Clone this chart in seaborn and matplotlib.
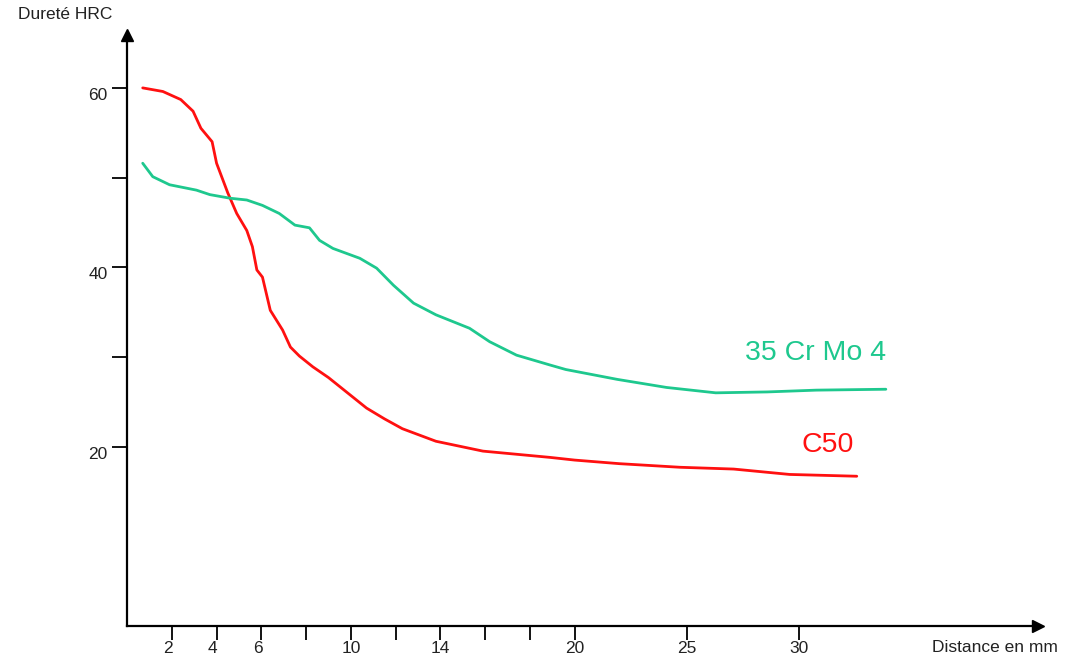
import pandas as pd
import matplotlib
matplotlib.use("Agg")
import matplotlib.pyplot as plt
import matplotlib.transforms as mtransforms
import seaborn as sns

# courbes Jominy : distance (mm) -> dureté (HRC)
c50_dist = [0.7, 1.6, 2.4, 2.95, 3.3, 3.8, 4.0, 4.5, 4.9, 5.35, 5.6, 5.8, 6.05, 6.4,
            6.95, 7.3, 7.7, 8.3, 9.0, 9.6, 10.7, 11.5, 12.3, 13.8, 15.9, 18.9, 20.0,
            22.0, 24.7, 27.1, 29.6, 32.6]
c50_hrc = [60.0, 59.6, 58.7, 57.4, 55.5, 54.0, 51.6, 48.3, 46.0, 44.1, 42.3, 39.7,
           38.9, 35.2, 33.0, 31.1, 30.1, 28.9, 27.7, 26.5, 24.3, 23.1, 22.0, 20.6,
           19.5, 18.8, 18.5, 18.1, 17.7, 17.5, 16.9, 16.7]

crmo_dist = [0.7, 1.15, 1.9, 3.1, 3.7, 4.6, 5.35, 6.05, 6.8, 7.5, 8.15, 8.6, 9.2,
             10.4, 11.15, 11.9, 12.8, 13.8, 15.3, 16.2, 17.4, 18.9, 19.6, 21.9,
             24.1, 26.3, 28.6, 30.8, 33.9]
crmo_hrc = [51.6, 50.1, 49.2, 48.6, 48.1, 47.7, 47.5, 46.9, 46.0, 44.7, 44.4, 43.0,
            42.1, 41.0, 39.9, 38.0, 36.0, 34.7, 33.2, 31.7, 30.2, 29.1, 28.6, 27.5,
            26.6, 26.0, 26.1, 26.3, 26.4]

nuances = ["C50", "35 Cr Mo 4"]
couleurs = {"C50": "#ff1010", "35 Cr Mo 4": "#1ec88e"}

x_ticks = [2, 4, 6, 8, 10, 12, 14, 16, 18, 20, 25, 30]
x_labels = ["2", "4", "6", "", "10", "", "14", "", "", "20", "25", "30"]
y_ticks = [20, 30, 40, 50, 60]
y_labels = ["20", "", "40", "", "60"]

df = pd.concat([
    pd.DataFrame({"dist": c50_dist, "hrc": c50_hrc, "nuance": "C50"}),
    pd.DataFrame({"dist": crmo_dist, "hrc": crmo_hrc, "nuance": "35 Cr Mo 4"}),
])

sns.set_style("white")
plt.rcParams["font.family"] = ["Liberation Sans", "DejaVu Sans"]

fig = plt.figure(figsize=(10.83, 6.6), dpi=100)
ax = fig.add_axes([0.1173, 0.0515, 0.8412, 0.8955])

sns.lineplot(data=df, x="dist", y="hrc", hue="nuance", hue_order=nuances,
             palette=couleurs, sort=False, estimator=None, linewidth=2,
             legend=False, ax=ax)

ax.set_xlim(0, 40.7)
ax.set_ylim(0, 65.9)

# axes en fleche
for s in ["top", "right"]:
    ax.spines[s].set_visible(False)
for s in ["left", "bottom"]:
    ax.spines[s].set_linewidth(1.6)
    ax.spines[s].set_color("black")
ax.plot(1, 0, ">k", transform=ax.transAxes, clip_on=False, markersize=9)
ax.plot(0, 1, "^k", transform=ax.transAxes, clip_on=False, markersize=9)

ax.set_xticks(x_ticks)
ax.set_xticklabels(x_labels, fontsize=12.5, color="#222222")
ax.set_yticks(y_ticks)
ax.set_yticklabels(y_labels, fontsize=12.5, color="#222222")
ax.tick_params(axis="x", bottom=True, direction="out", length=10, width=1.3,
               color="black", pad=1)
ax.tick_params(axis="y", left=True, direction="out", length=11, width=1.3,
               color="black", pad=3)

for lab in ax.get_xticklabels():
    if len(lab.get_text()) == 1:
        lab.set_horizontalalignment("right")
        lab.set_transform(lab.get_transform() + mtransforms.ScaledTranslation(1 / 100, 0, fig.dpi_scale_trans))
for lab in ax.get_yticklabels():
    lab.set_transform(lab.get_transform() + mtransforms.ScaledTranslation(0, -6 / 100, fig.dpi_scale_trans))

ax.set_xlabel("Distance en mm", fontsize=12.5, color="#222222")
ax.xaxis.set_label_coords(0.953, -0.037)
ax.xaxis.label.set_verticalalignment("center")
ax.set_ylabel("Dureté HRC", fontsize=12.5, color="#222222", rotation=0)
ax.yaxis.set_label_coords(-0.068, 1.035)
ax.yaxis.label.set_verticalalignment("center")
ax.yaxis.label.set_horizontalalignment("center")

ax.text(33.9, 30.4, "35 Cr Mo 4", color=couleurs["35 Cr Mo 4"], fontsize=20.5,
        ha="right", va="center")
ax.text(32.45, 20.2, "C50", color=couleurs["C50"], fontsize=20.5,
        ha="right", va="center")

fig.savefig("out.png", dpi=100, facecolor="white")
